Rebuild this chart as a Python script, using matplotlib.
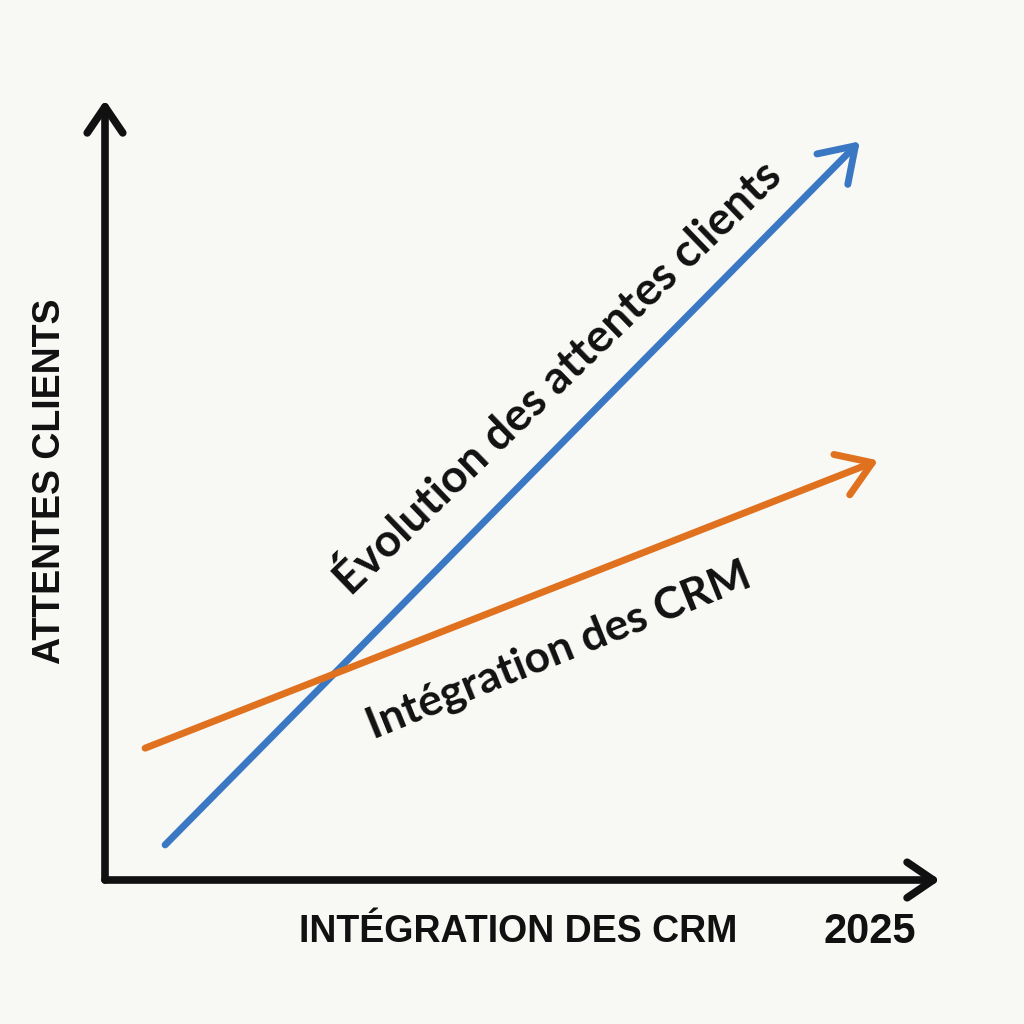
import matplotlib.pyplot as plt

# donnees (unites du repere : 0..10 sur chaque axe)
attentes_x = [0.72, 9.04]
attentes_y = [0.45, 9.47]
crm_x = [0.48, 9.26]
crm_y = [1.69, 5.38]

couleur_fond = '#f8f8f5'
bleu = '#3b78c4'
orange = '#e0711f'

fig = plt.figure(figsize=(10.24, 10.24), dpi=100, facecolor=couleur_fond)
ax = fig.add_axes([105 / 1024, 144 / 1024, 835 / 1024, 780 / 1024])
ax.set_xlim(0, 10)
ax.set_ylim(0, 10)
ax.set_facecolor(couleur_fond)
ax.axis('off')


def fleche(x0, y0, x1, y1, couleur, lw=5, tete=1.0):
    style = '->,head_length=%.2f,head_width=%.2f' % (0.45 * tete, 0.3 * tete)
    ax.annotate('', xy=(x1, y1), xytext=(x0, y0),
                arrowprops=dict(arrowstyle=style, lw=lw, color=couleur,
                                capstyle='round', joinstyle='round',
                                mutation_scale=40, shrinkA=0, shrinkB=0),
                annotation_clip=False)


# axes
fleche(0, 0, 10, 0, '#111111', lw=5.5, tete=1.05)
fleche(0, 0, 0, 10, '#111111', lw=5.5, tete=1.05)

# courbes
fleche(attentes_x[0], attentes_y[0], attentes_x[1], attentes_y[1], bleu, tete=1.3)
fleche(crm_x[0], crm_y[0], crm_x[1], crm_y[1], orange, tete=1.3)

# textes sur les fleches
ax.text(5.43, 6.43, 'Évolution des attentes clients', rotation=44,
        ha='center', va='center', fontsize=33, family='Lato',
        fontweight='bold', color='#111111', rotation_mode='anchor')
ax.text(5.43, 2.95, 'Intégration des CRM', rotation=22,
        ha='center', va='center', fontsize=32, family='Lato',
        fontweight='bold', color='#111111', rotation_mode='anchor')

# etiquettes des axes
fig.text(50 / 1024, 1 - 481 / 1024, 'ATTENTES CLIENTS', rotation=90,
         ha='center', va='center', fontsize=27, family='Liberation Sans',
         fontweight='bold', color='#111111')
fig.text(518 / 1024, 1 - 932 / 1024, 'INTÉGRATION DES CRM',
         ha='center', va='center', fontsize=27, family='Liberation Sans',
         fontweight='bold', color='#111111')
fig.text(870 / 1024, 1 - 932 / 1024, '2025',
         ha='center', va='center', fontsize=30, family='Liberation Sans',
         fontweight='bold', color='#111111')

fig.savefig('out.png', dpi=100, facecolor=couleur_fond)
